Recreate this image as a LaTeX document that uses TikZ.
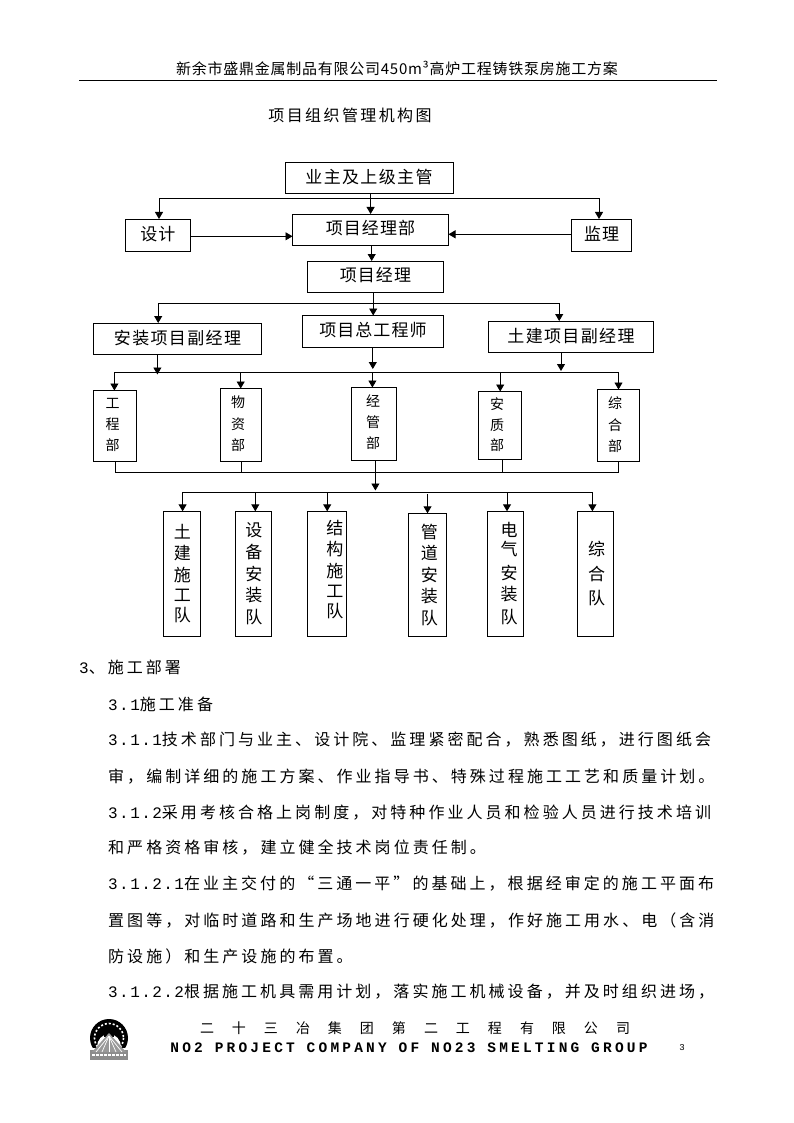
\documentclass[tikz,border=0pt]{standalone}
\usepackage{fontspec}
\setmainfont{Liberation Sans}
\newfontfamily\cjk{Noto Sans CJK SC}
\newfontfamily\monof{Liberation Mono}
\usetikzlibrary{arrows.meta,calc}
\newcommand{\fs}[1]{\fontsize{#1pt}{#1pt}\selectfont}
\newcommand{\ls}[2]{\addfontfeature{LetterSpace=#1}#2}
\newcommand{\dg}[1]{{\monof\addfontfeature{LetterSpace=9}#1}}
\newcommand{\vt}[3]{\leavevmode\kern#1pt\raisebox{#2pt}{\shortstack{#3}}}
\tikzset{
  box/.style={draw=black,line width=0.8pt,inner sep=0pt,outer sep=0pt,anchor=north west,align=center,font=\cjk\fs{17}},
  vbox/.style={box,font=\cjk\fs{14}},
  tallbox/.style={box,font=\cjk\fs{17}},
  conn/.style={draw=black,line width=0.9pt},
  arr/.style={conn,-{Triangle[length=7pt,width=8pt]}},
  body/.style={anchor=west,inner sep=0pt,font=\cjk\fs{16}},
}
\begin{document}
\begin{tikzpicture}[x=1pt,y=-1pt]
\useasboundingbox (0,0) rectangle (794,1123);
\fill[white] (0,0) rectangle (794,1123);
% header
\node[inner sep=0pt,font=\cjk\fs{15}] (hdr) at (397,68) {\ls{5}{新余市盛鼎金属制品有限公司450m³高炉工程铸铁泵房施工方案}};
\coordinate (hl) at (79,80); \coordinate (hr) at (717,80);
\draw[line width=0.9pt] (hl) -- (hr);
\node[inner sep=0pt,font=\cjk\fs{16}] (ttl) at (350,115) {\ls{15}{项目组织管理机构图}};
% top boxes
\node[box,minimum width=168pt,minimum height=31pt] (owner) at (285,162) {\raisebox{1pt}{\ls{8}{业主及上级主管}}};
\node[box,minimum width=65pt,minimum height=32pt] (design) at (125.5,219) {\raisebox{3pt}{\ls{6}{设计}}};
\node[box,minimum width=156pt,minimum height=31pt] (dept) at (292.5,214) {\raisebox{5pt}{\ls{6}{项目经理部}}};
\node[box,minimum width=60pt,minimum height=32pt] (sup) at (571.5,219) {\raisebox{3pt}{\ls{6}{监理}}};
\node[box,minimum width=136pt,minimum height=31pt] (pm) at (307.5,261) {\raisebox{5pt}{\ls{6}{项目经理}}};
\node[box,minimum width=168pt,minimum height=31pt] (vp1) at (93.5,323) {\raisebox{2pt}{\ls{8}{安装项目副经理}}};
\node[box,minimum width=141pt,minimum height=32pt] (chief) at (302.5,315.5) {\raisebox{4pt}{\ls{6}{项目总工程师}}};
\node[box,minimum width=165pt,minimum height=31pt] (vp2) at (488.5,321) {\raisebox{1pt}{\ls{8}{土建项目副经理}}};
% junctions row 1
\coordinate (j1) at (370.6,198.3);
\coordinate (j1l) at (159,198.3);
\coordinate (j1r) at (599,198.3);
\draw[conn] (j1l) -- (j1r);
\draw[conn] (owner.south -| j1) -- (j1);
\draw[arr] (j1) -- (dept.north -| j1);
\draw[arr] (j1l) -- (design.north -| j1l);
\draw[arr] (j1r) -- (sup.north -| j1r);
\coordinate (d1) at (design.east |- 0,236.3);
\coordinate (d2) at (dept.west |- 0,236.3);
\draw[arr] (d1) -- (d2);
\coordinate (s1) at (sup.west |- 0,234.3);
\coordinate (s2) at (dept.east |- 0,234.3);
\draw[arr] (s1) -- (s2);
\coordinate (dp) at (371.7,0);
\draw[arr] (dept.south -| dp) -- (pm.north -| dp);
% row 2
\coordinate (j2) at (373.2,303.3);
\coordinate (j2l) at (158.2,303.3);
\coordinate (j2r) at (559.2,303.3);
\draw[conn] (j2l) -- (j2r);
\draw[conn] (pm.south -| j2) -- (j2);
\draw[arr] (j2) -- (chief.north -| j2);
\draw[arr] (j2l) -- (vp1.north -| j2l);
\draw[arr] (j2r) -- (vp2.north -| j2r);
% row 3 bus
\coordinate (b3l) at (114.4,372.7);
\coordinate (b3r) at (618.5,372.7);
\draw[conn] (b3l) -- (b3r);
\coordinate (a1) at (157.4,374.5);
\coordinate (a2) at (372.8,369);
\coordinate (a3) at (561,371);
\draw[arr] (vp1.south -| a1) -- (a1);
\draw[arr] (chief.south -| a2) -- (a2);
\draw[arr] (vp2.south -| a3) -- (a3);
% departments
\node[vbox,minimum width=43pt,minimum height=71pt] (d-a) at (93.5,390.5) {\vt{-5}{3.5}{工\\[6pt]程\\[5pt]部}};
\node[vbox,minimum width=41pt,minimum height=73pt] (d-b) at (220.5,388.5) {\vt{-6}{4}{物\\[6pt]资\\[5pt]部}};
\node[vbox,minimum width=45pt,minimum height=73pt] (d-c) at (351.5,387.5) {\vt{-2}{4.5}{经\\[6pt]管\\[5pt]部}};
\node[vbox,minimum width=43pt,minimum height=68pt] (d-d) at (478.5,391.5) {\vt{-6}{2.5}{安\\[5pt]质\\[5pt]部}};
\node[vbox,minimum width=42pt,minimum height=72pt] (d-e) at (597.5,389.5) {\vt{-7}{3}{综\\[6pt]合\\[5pt]部}};
\draw[arr] (b3l) -- (d-a.north -| b3l);
\coordinate (c2) at (240.7,372.7); \draw[arr] (c2) -- (d-b.north -| c2);
\coordinate (c3) at (372.4,372.7); \draw[arr] (c3) -- (d-c.north -| c3);
\coordinate (c4) at (500.2,372.7); \draw[arr] (c4) -- (d-d.north -| c4);
\draw[arr] (b3r) -- (d-e.north -| b3r);
% lower bus
\coordinate (b4l) at (115.2,472.3);
\coordinate (b4m) at (375.4,472.3);
\coordinate (b4r) at (618.8,472.3);
\draw[conn] (b4l) -- (b4r);
\draw[conn] (d-a.south -| b4l) -- (b4l);
\coordinate (e2) at (241.5,472.3); \draw[line width=0.5pt] (d-b.south -| e2) -- (e2);
\coordinate (e4) at (502.5,472.3); \draw[line width=0.5pt] (d-d.south -| e4) -- (e4);
\draw[conn] (d-e.south -| b4r) -- (b4r);
\coordinate (tip) at (375.4,490.5);
\draw[arr] (d-c.south -| b4m) -- (tip);
% teams bus
\coordinate (b5l) at (182.6,492.3);
\coordinate (b5r) at (592.4,492.3);
\draw[conn] (b5l) -- (b5r);
\node[tallbox,minimum width=37pt,minimum height=125pt] (t1) at (163.8,511.3) {\vt{0}{1}{土\\[3pt]建\\[3pt]施\\[3pt]工\\[3pt]队}};
\node[tallbox,minimum width=36pt,minimum height=125pt] (t2) at (235.4,511.3) {\vt{1}{1}{设\\[3pt]备\\[3pt]安\\[3pt]装\\[3pt]队}};
\node[tallbox,minimum width=39pt,minimum height=125pt] (t3) at (307.3,511.3) {\vt{16}{10}{结\\[3pt]构\\[3pt]施\\[3pt]工\\[3pt]队}};
\node[tallbox,minimum width=38pt,minimum height=123pt] (t4) at (408.4,513.3) {\vt{4}{1}{管\\[3pt]道\\[3pt]安\\[3pt]装\\[3pt]队}};
\node[tallbox,minimum width=36pt,minimum height=125pt] (t5) at (487.6,511.3) {\vt{7}{2}{电\\[1pt]气\\[5pt]安\\[3pt]装\\[4pt]队}};
\node[tallbox,minimum width=36pt,minimum height=125pt] (t6) at (577.5,511.3) {\vt{2}{2}{综\\[6pt]合\\[5pt]队}};
\draw[arr] (b5l) -- (t1.north -| b5l);
\coordinate (f2) at (255.3,492.3); \draw[arr] (f2) -- (t2.north -| f2);
\coordinate (f3) at (327.2,492.3); \draw[arr] (f3) -- (t3.north -| f3);
\coordinate (f4) at (427.5,494.3); \draw[arr] (f4) -- (t4.north -| f4);
\coordinate (f5) at (507,492.3); \draw[arr] (f5) -- (t5.north -| f5);
\draw[arr] (b5r) -- (t6.north -| b5r);
% body
\node[body] (l0) at (79,667) {\dg{3}\ls{19}{、施工部署}};
\node[body] (l1) at (108,704) {\dg{3.1}\ls{19}{施工准备}};
\node[body] (l2) at (108,740) {\dg{3.1.1}\ls{19}{技术部门与业主、设计院、监理紧密配合，熟悉图纸，进行图纸会}};
\node[body] (l3) at (108,777) {\ls{19}{审，编制详细的施工方案、作业指导书、特殊过程施工工艺和质量计划。}};
\node[body] (l4) at (108,813) {\dg{3.1.2}\ls{19}{采用考核合格上岗制度，对特种作业人员和检验人员进行技术培训}};
\node[body] (l5) at (108,848) {\ls{19}{和严格资格审核，建立健全技术岗位责任制。}};
\node[body] (l6) at (108,884) {\dg{3.1.2.1}\ls{19}{在业主交付的“三通一平”的基础上，根据经审定的施工平面布}};
\node[body] (l7) at (108,920) {\ls{19}{置图等，对临时道路和生产场地进行硬化处理，作好施工用水、电（含消}};
\node[body] (l8) at (108,956) {\ls{19}{防设施）和生产设施的布置。}};
\node[body] (l9) at (108,992) {\dg{3.1.2.2}\ls{19}{根据施工机具需用计划，落实施工机械设备，并及时组织进场，}};
% footer
\node[inner sep=0pt,font=\cjk\fs{14}] (f1) at (415,1028) {二\hspace{18pt}十\hspace{18pt}三\hspace{18pt}冶\hspace{18pt}集\hspace{18pt}团\hspace{18pt}第\hspace{18pt}二\hspace{18pt}工\hspace{18pt}程\hspace{18pt}有\hspace{18pt}限\hspace{18pt}公\hspace{18pt}司};
\node[inner sep=0pt,font=\monof\bfseries\fs{14.5}] (f2t) at (409,1048) {\ls{22}{NO2 PROJECT COMPANY OF NO23 SMELTING GROUP}};
\node[inner sep=0pt,font=\monof\fs{9}] (pg) at (682,1048) {3};
% logo
\fill[black] (109,1038) circle (19);
\draw[white,line width=1.6pt,dash pattern=on 2pt off 2pt] (109,1038) circle (14.5);
\fill[white] (109,1047) ellipse (12 and 13);
\fill[black] (104,1030) rectangle (114,1037);
\fill[white] (90,1048) rectangle (128,1060);
\fill[black!45] (90,1050) rectangle (128,1060);
\fill[black!40] (109,1033) -- (92,1052) -- (126,1052) -- cycle;
\foreach \q in {96,102,109,116,122}{\draw[white,line width=0.7pt] (109,1036) -- (\q,1052);}
\draw[white,line width=2pt,dash pattern=on 2.5pt off 1.5pt] (92,1055) -- (126,1055);
\end{tikzpicture}
\end{document}
